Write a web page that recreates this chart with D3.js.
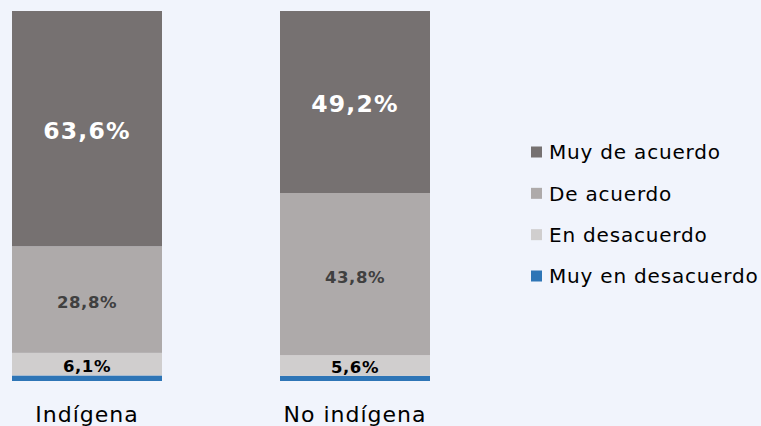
<!DOCTYPE html>
<html><head><meta charset="utf-8">
<script src="https://cdn.jsdelivr.net/npm/d3@7"></script>
<style>
html,body{margin:0;padding:0;background:#f1f4fc;}
svg{display:block;font-family:"DejaVu Sans",Verdana,sans-serif;}
</style></head><body>
<svg id="chart" width="761" height="426"></svg>
<script>
const categories = ["Indígena", "No indígena"];
const seriesNames = ["Muy en desacuerdo", "En desacuerdo", "De acuerdo", "Muy de acuerdo"];
const muyEnDesacuerdo = [1.5, 1.4];
const enDesacuerdo = [6.1, 5.6];
const deAcuerdo = [28.8, 43.8];
const muyDeAcuerdo = [63.6, 49.2];
const labels = [["", "6,1%", "28,8%", "63,6%"], ["", "5,6%", "43,8%", "49,2%"]];
const legendOrder = ["Muy de acuerdo", "De acuerdo", "En desacuerdo", "Muy en desacuerdo"];

const colors = {"Muy en desacuerdo":"#2e75b6","En desacuerdo":"#d0cece","De acuerdo":"#aeaaaa","Muy de acuerdo":"#767171"};
const labelStyle = {
  "Muy en desacuerdo": null,
  "En desacuerdo": {size: 16.5, fill: "#000000", ls: 0.6, off: 1.5},
  "De acuerdo": {size: 16.5, fill: "#404040", ls: 0.6, off: 2.5},
  "Muy de acuerdo": {size: 23.5, fill: "#ffffff", ls: 1.2, off: 2}
};

const table = categories.map((c, i) => ({
  cat: c,
  "Muy en desacuerdo": muyEnDesacuerdo[i],
  "En desacuerdo": enDesacuerdo[i],
  "De acuerdo": deAcuerdo[i],
  "Muy de acuerdo": muyDeAcuerdo[i]
}));
const stacked = d3.stack().keys(seriesNames)(table);

const svg = d3.select("#chart");
const bandX = d3.scalePoint().domain(categories).range([12, 280]);
const bw = 150;
const y = d3.scaleLinear().domain([0, 100]).range([381, 11]);

const g = svg.append("g");
stacked.forEach((layer, si) => {
  const key = layer.key;
  g.selectAll(null).data(layer).enter().append("rect")
    .attr("x", d => bandX(d.data.cat))
    .attr("width", bw)
    .attr("y", d => y(d[1]))
    .attr("height", d => y(d[0]) - y(d[1]))
    .attr("fill", colors[key]);
  const st = labelStyle[key];
  if (st) {
    g.selectAll(null).data(layer).enter().append("text")
      .attr("x", d => bandX(d.data.cat) + bw / 2)
      .attr("y", d => (y(d[0]) + y(d[1])) / 2 + st.off)
      .attr("dy", "0.36em")
      .attr("text-anchor", "middle")
      .attr("font-weight", "bold")
      .attr("font-size", st.size)
      .attr("letter-spacing", st.ls)
      .attr("fill", st.fill)
      .text((d, i) => labels[i][si]);
  }
});

// category labels
svg.selectAll(null).data(categories).enter().append("text")
  .attr("x", d => bandX(d) + bw / 2)
  .attr("y", 422)
  .attr("text-anchor", "middle")
  .attr("font-size", 22)
  .attr("letter-spacing", 1)
  .attr("fill", "#000")
  .text(d => d);

// legend
const lg = svg.append("g");
const ly = d3.scalePoint().domain(legendOrder).range([152, 276]);
legendOrder.forEach(k => {
  lg.append("rect").attr("x", 531).attr("y", ly(k) - 5.5).attr("width", 11).attr("height", 11).attr("fill", colors[k]);
  lg.append("text").attr("x", 549).attr("y", ly(k)).attr("dy", "0.36em")
    .attr("font-size", 20).attr("letter-spacing", 0.8).attr("fill", "#000").text(k);
});
</script></body></html>
